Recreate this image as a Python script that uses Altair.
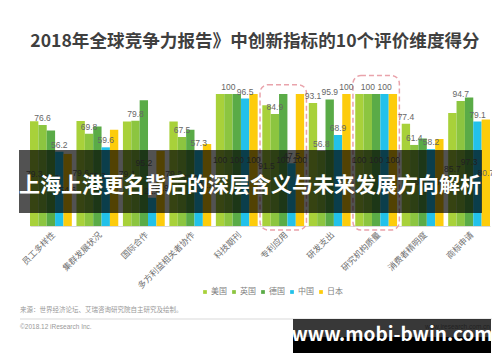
import altair as alt
import pandas as pd

# ---------------- data ----------------
categories = ["员工多样性", "集群发展状况", "国际合作", "多方利益相关者协作", "科技期刊",
              "专利应用", "研发支出", "研究机构质量", "消费者精明度", "商标申请"]
countries = ["美国", "英国", "德国", "中国", "日本"]
colors = ["#a8d13a", "#8cc540", "#5aab47", "#22c1ea", "#fdcc0c"]

us = [79.3, 79.6, 79.1, 79.2, 100, 91.5, 93.1, 100, 77.4, 85.7]
uk = [76.6, 69.8, 79.8, 67.5, 100, 84.9, 56.8, 100, 61.4, 94.7]
de = [72.3, 75.3, 95.2, 72.9, 100, 100, 95.9, 100, 66.3, 97.3]
cn = [56.2, 59.6, 21.4, 57.3, 96.5, 47.5, 68.9, 100, 58.2, 79.1]
jp = [54.6, 72.9, 56.9, 62.1, 100, 100, 100, 100, 66.0, 80.7]

# which labels sit in the middle of the bars (by country), with exceptions
center_label_countries = ["美国", "德国", "日本"]
top_label_exceptions = [("研发支出", "美国"), ("研发支出", "德国"), ("研发支出", "日本"),
                        ("消费者精明度", "美国")]

# highlighted categories (dashed boxes) and their box tops
box_categories = ["专利应用", "研究机构质量"]
box_tops = [107, 114]
box_bottom = -3

title_text = "2018年全球竞争力报告》中创新指标的10个评价维度得分"
banner_text = "上海上港更名背后的深层含义与未来发展方向解析"
source_text = "来源：世界经济论坛、艾瑞咨询研究院自主研究及绘制。"
copyright_text = "©2018.12 iResearch Inc."
site_text = "www.iresearch.com.cn"
watermark_text = "www.mobi-bwin.com"

CJK = "Noto Sans CJK SC"
NUM = "Liberation Sans"

# ---------------- tables ----------------
series = {"美国": us, "英国": uk, "德国": de, "中国": cn, "日本": jp}
rows = []
for c in countries:
    for cat, v in zip(categories, series[c]):
        mid = (c in center_label_countries) and ((cat, c) not in top_label_exceptions)
        rows.append({"category": cat, "country": c, "value": v,
                     "half": v / 2,
                     "label": f"{v:g}",
                     "mid": mid})
df = pd.DataFrame(rows)
box_df = pd.DataFrame({"category": box_categories, "top": box_tops,
                       "bottom": [box_bottom] * len(box_categories)})

xscale = alt.Scale(domain=categories, paddingInner=0.1, paddingOuter=0)
yscale = alt.Scale(domain=[0, 100], nice=False)
cscale = alt.Scale(domain=countries, range=colors)

x_enc = alt.X("category:N", scale=xscale, sort=categories,
              axis=alt.Axis(title=None, labelAngle=-45, labelFontSize=8.5,
                            labelColor="#707070", labelFont=CJK, ticks=False,
                            domainColor="#d9d9d9", labelPadding=4, labelLimit=200))
xoff = alt.XOffset("country:N", sort=countries,
                   scale=alt.Scale(domain=countries, paddingInner=0, paddingOuter=0))

bars = alt.Chart(df).mark_bar().encode(
    x=x_enc,
    xOffset=xoff,
    y=alt.Y("value:Q", scale=yscale, axis=None),
    color=alt.Color("country:N", scale=cscale, sort=countries,
                    legend=alt.Legend(orient="none", legendX=171, legendY=194,
                                      direction="horizontal", title=None,
                                      symbolType="square", symbolSize=14,
                                      symbolStrokeWidth=0, labelFontSize=8,
                                      labelColor="#808080", labelFont=CJK,
                                      columnPadding=3, labelOffset=2)),
)

boxes = alt.Chart(box_df).mark_bar(
    width={"band": 1.11}, fill=None, fillOpacity=0, stroke="#e9a3ab",
    strokeWidth=1.5, strokeDash=[5, 3], cornerRadius=8
).encode(
    x=alt.X("category:N", scale=xscale, sort=categories),
    y=alt.Y("top:Q", scale=yscale),
    y2="bottom:Q",
)

top_labels = alt.Chart(df).transform_filter("!datum.mid").mark_text(
    baseline="bottom", dy=-2, fontSize=8.5, font=NUM, color="#666666"
).encode(
    x=alt.X("category:N", scale=xscale, sort=categories),
    xOffset=xoff,
    y=alt.Y("value:Q", scale=yscale),
    text="label:N",
)

mid_labels = alt.Chart(df).transform_filter("datum.mid").mark_text(
    baseline="middle", fontSize=8.5, font=NUM, color="#666666"
).encode(
    x=alt.X("category:N", scale=xscale, sort=categories),
    xOffset=xoff,
    y=alt.Y("half:Q", scale=yscale),
    text="label:N",
)

one = pd.DataFrame({"a": [0]})


def deco_text(text, x, y, size, color, weight="normal", align="left", font=CJK):
    return alt.Chart(pd.DataFrame({"t": [text]})).mark_text(
        align=align, baseline="middle", fontSize=size, color=color,
        fontWeight=weight, font=font
    ).encode(x=alt.value(x), y=alt.value(y), text="t:N")


def deco_rect(x1, x2, y1, y2, color, opacity=1.0):
    return alt.Chart(one).mark_rect(color=color, opacity=opacity).encode(
        x=alt.value(x1), x2=alt.value(x2), y=alt.value(y1), y2=alt.value(y2))


title = deco_text(title_text, 225, -52, 17.6, "#3f3f3f", weight="bold", align="center")
banner = deco_rect(-11, 452, 56, 119, "#000000", 0.68)
banner_t = deco_text(banner_text, 220, 92, 21, "#ffffff", weight="bold", align="center")
source = deco_text(source_text, -10, 216, 6.5, "#999999")
rule = alt.Chart(one).mark_rule(color="#d9d9d9").encode(
    x=alt.value(-10), x2=alt.value(462), y=alt.value(225))
copy_t = deco_text(copyright_text, -10, 233, 6.5, "#999999", font=NUM)
site_t = deco_text(site_text, 460, 233, 6.5, "#999999", align="right", font=NUM)
wm_gray = deco_rect(263, 461, 225, 243, "#000000", 0.78)
wm_black = deco_rect(263, 461, 243, 259, "#000000", 1.0)
wm_t = deco_text(watermark_text, 362, 241, 19, "#ffffff", weight="bold", align="center")

chart = alt.layer(
    bars, boxes, top_labels, mid_labels, banner, banner_t, title,
    source, rule, copy_t, site_t, wm_gray, wm_black, wm_t
).properties(
    width=460, height=132,
    autosize=alt.AutoSizeParams(type="none"),
    padding={"left": 22, "top": 86, "right": 2, "bottom": 128},
    background="#ffffff",
).configure_view(stroke=None)

chart.save("out.html", embed_options={"renderer": "svg", "actions": False})
